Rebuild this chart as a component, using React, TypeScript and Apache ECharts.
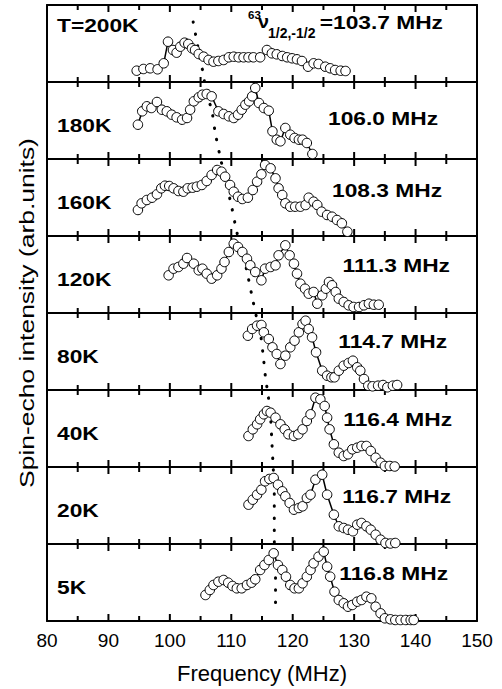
import React, { useEffect, useRef } from 'react';
import * as echarts from 'echarts';

// ---------- data ----------
const temperatureLabels = ['T=200K', '180K', '160K', '120K', '80K', '40K', '20K', '5K'];
const centerFreqLabels = ['=103.7 MHz', '106.0 MHz', '108.3 MHz', '111.3 MHz', '114.7 MHz', '116.4 MHz', '116.7 MHz', '116.8 MHz'];
const xMin = 80;
const xMax = 150;
const xInterval = 10;
const majorTicks = [80, 90, 100, 110, 120, 130, 140, 150];
const minorTicks = [85, 95, 105, 115, 125, 135, 145];

const freq200K = [94.6, 95.7, 96.8, 98.0, 99.0, 99.7, 100.5, 101.1, 101.7, 102.4, 103.0, 103.6, 104.1, 104.7, 105.5, 106.3, 107.1, 107.9, 108.75, 109.6, 110.4, 111.2, 112.0, 112.8, 113.6, 114.7, 115.8, 116.6, 117.4, 118.3, 119.1, 119.9, 120.7, 121.5, 122.5, 123.4, 124.2, 125.3, 126.1, 126.9, 127.8, 128.6];
const int200K = [11.3, 13, 13.7, 12.7, 18.7, 40.3, 32, 29.3, 35.3, 39.3, 38, 33.7, 32, 28, 25.3, 22, 20.3, 21, 22, 24.7, 25.3, 24.7, 24.7, 24.7, 24.7, 24.7, 32, 28.7, 27.7, 26, 24.7, 23.7, 22.7, 21, 15.3, 18.7, 18, 15.3, 13.7, 12, 11.3, 11];

const freq180K = [94.8, 95.5, 96.25, 97.0, 97.9, 98.7, 99.5, 100.3, 101.1, 102.0, 102.8, 103.3, 103.9, 104.7, 105.3, 106.0, 106.8, 107.9, 108.75, 109.6, 110.4, 111.1, 111.7, 112.3, 112.9, 113.4, 113.9, 114.5, 115.3, 116.1, 116.7, 117.4, 118.0, 118.8, 119.6, 120.3, 121.0, 121.6, 122.3, 123.2];
const int180K = [34.3, 47.7, 52.7, 51, 57, 49.3, 47.7, 44.3, 41.7, 39.3, 41, 49.3, 57.7, 61.7, 64.3, 65, 62.7, 47.7, 45, 42.7, 41, 44.3, 49.3, 54.3, 57.7, 62.7, 71, 56, 51, 48.3, 27.7, 19.3, 17.7, 31, 24.3, 21, 19.3, 19.3, 16, 5];

const freq160K = [94.8, 95.4, 96.25, 97.1, 97.9, 98.6, 99.2, 99.9, 100.6, 101.4, 102.2, 102.9, 103.7, 104.4, 105.2, 106.0, 106.8, 107.7, 108.4, 109.0, 109.8, 110.4, 111.1, 111.8, 112.7, 113.5, 114.2, 114.9, 115.5, 116.4, 117.2, 117.7, 118.3, 118.8, 119.6, 120.4, 121.25, 122.1, 122.6, 123.4, 124.0, 124.7, 125.6, 126.4, 127.2, 128.0, 128.9];
const int160K = [26, 32.7, 36, 38.3, 41.7, 47.7, 50.3, 50, 47.7, 45, 44.3, 47.7, 48.3, 49.3, 51, 55, 61, 66, 64.3, 59.3, 51, 44.3, 39.3, 37, 38.3, 46, 54.3, 61.7, 71, 67.7, 57.7, 47.7, 41, 32.7, 29.3, 29.3, 29.3, 31, 38.3, 34.3, 31, 24.3, 21, 19.3, 16, 12.7, 4.3];

const freq120K = [99.8, 100.6, 101.4, 102.2, 102.8, 103.9, 104.7, 105.3, 106.0, 106.8, 107.7, 108.4, 108.9, 109.6, 110.4, 111.1, 111.8, 112.55, 113.1, 113.9, 114.9, 115.5, 116.4, 117.2, 117.7, 118.8, 119.5, 120.2, 120.7, 121.25, 122.0, 122.6, 123.4, 124.0, 124.8, 125.4, 125.9, 126.4, 127.0, 127.5, 128.3, 129.1, 129.9, 130.8, 131.6, 132.4, 133.2, 134.0];
const int120K = [37.7, 44.3, 46, 49.3, 55, 49.3, 42.7, 44.3, 39.3, 34.3, 37.7, 44.3, 51, 61, 69.3, 66, 61, 54.3, 47.7, 41, 32.7, 44.3, 46, 47.7, 57.7, 67.7, 57.7, 49.3, 39.3, 29.3, 24.3, 19.3, 21, 9.3, 17.7, 24.3, 31, 27.7, 21, 14.3, 11, 7.7, 6, 6, 7.7, 9.3, 8.3, 8.3];

const freq80K = [112.7, 113.4, 114.2, 114.9, 115.3, 116.1, 116.7, 117.4, 118.0, 118.8, 119.6, 120.3, 121.0, 121.6, 122.1, 122.6, 123.15, 123.8, 124.8, 125.6, 126.3, 126.8, 127.5, 128.3, 129.1, 129.8, 130.5, 131.0, 131.6, 132.3, 133.0, 133.9, 134.7, 135.4, 136.3, 137.0];
const int80K = [54.3, 61, 64.3, 65, 57.7, 51, 42.7, 36, 26, 34.3, 42.7, 49.3, 57.7, 66, 69.3, 61, 52.7, 37.7, 19.3, 14.3, 12.7, 12.7, 19.3, 24.3, 27, 29.3, 22.7, 19.3, 11, 4.3, 3.7, 4.3, 5, 2.7, 4.3, 5];

const freq40K = [112.8, 113.5, 114.2, 114.7, 115.3, 115.8, 116.4, 117.2, 118.0, 118.7, 119.3, 120.2, 120.9, 121.6, 122.3, 122.9, 123.7, 124.5, 125.2, 125.6, 126.0, 126.7, 127.5, 128.3, 129.0, 129.7, 130.5, 131.2, 132.0, 132.7, 133.5, 134.3, 135.0, 135.8, 136.6];
const int40K = [31, 37.7, 42.7, 47.7, 52.7, 56, 54.3, 49.3, 42.7, 37.7, 32.7, 31, 32.7, 37.7, 46, 52.7, 69.3, 67.7, 61, 49.3, 37.7, 22.7, 14.3, 11, 12.7, 17.7, 19.3, 21, 21, 16, 9.3, 4.3, 1, 1, 0.5];

const freq20K = [112.8, 113.5, 114.2, 114.9, 115.5, 116.2, 116.9, 117.6, 118.3, 118.8, 119.5, 120.2, 121.0, 121.6, 122.3, 122.9, 123.7, 124.8, 125.6, 126.7, 127.5, 128.3, 129.0, 129.8, 130.5, 131.2, 132.0, 132.7, 133.5, 134.3, 135.1, 135.9, 136.7];
const int20K = [39.3, 44.3, 49.3, 54.3, 62.7, 65, 66, 59.3, 52.7, 47.7, 41, 34.3, 36, 37.7, 46, 49.3, 64.3, 69.3, 49.3, 29.3, 17.7, 16, 14.3, 12.7, 19.3, 21, 17.7, 14.3, 9.3, 4.3, 1, 0.5, 1];

const freq5K = [105.8, 106.5, 107.1, 107.9, 108.75, 109.5, 110.2, 110.9, 111.7, 112.55, 113.3, 113.9, 114.7, 115.4, 116.1, 116.9, 117.6, 118.3, 118.9, 119.6, 120.3, 121.0, 121.6, 122.3, 122.9, 123.4, 124.2, 125.05, 125.6, 126.1, 126.8, 127.5, 128.3, 129.0, 129.7, 130.5, 131.2, 132.0, 132.8, 133.5, 134.3, 135.0, 135.9, 136.7, 137.55, 138.4, 139.2, 139.7];
const int5K = [26, 31, 36, 39.3, 41, 38.3, 35, 32.7, 32.7, 36, 38.3, 41.7, 51, 56, 61, 67.7, 56, 51, 44.3, 36, 32.7, 32.7, 37.7, 44.3, 51, 57.7, 64.3, 69.3, 54.3, 44.3, 29.3, 21, 17.7, 14.3, 16, 19.3, 21, 24.3, 22.7, 14.3, 7.7, 2.7, 1.7, 1, 1, 1, 1, 1];

// dotted guide line through the central peak (frequency, height above the bottom of the stack)
const guideFreq = [103.8, 104.2, 104.6, 105.0, 105.5, 105.8, 106.8, 107.4, 108.2, 109.25, 110.1, 110.9, 111.9, 112.5, 113.3, 114.1, 114.7, 115.2, 115.6, 116.0, 116.4, 116.6, 116.8, 117.0, 117.0, 117.2, 117.2];
const guideHeight = [599, 586, 573, 559, 546, 531, 511, 488, 464, 436, 413, 389, 366, 351, 327, 304, 289, 265, 242, 226, 203, 180, 156, 131, 83, 51, 16];

const panelFreqs = [freq200K, freq180K, freq160K, freq120K, freq80K, freq40K, freq20K, freq5K];
const panelInts = [int200K, int180K, int160K, int120K, int80K, int40K, int20K, int5K];

// ---------- layout ----------
const LEFT = 47;
const WIDTH = 430;
const TOP = 5;
const PANEL_H = 77;
const N = 8;
const FONT = '"Liberation Sans", Arial, Helvetica, sans-serif';
const LABEL_STRETCH = 1.23;
const mhzRight = [443, 438, 442, 450, 447, 452, 451, 448];
const mhzCenterOffset = [17, 36, 31, 29, 28, 29, 29, 29];
const MAJOR_LEN = 7;
const MINOR_LEN = 5;

function txt(x: number, y: number, text: string, size: number, weight: string, align: string, extra: any = {}) {
  return {
    type: 'text',
    x,
    y,
    ...extra,
    style: {
      text,
      fontSize: size,
      fontWeight: weight,
      fontFamily: FONT,
      fill: '#000',
      align,
      verticalAlign: 'middle',
      textAlign: align,
      textVerticalAlign: 'middle',
    },
    z: 10,
  };
}

export default function App() {
  const ref = useRef<HTMLDivElement>(null);
  useEffect(() => {
    if (!ref.current) return;
    const chart = echarts.init(ref.current, undefined, { renderer: 'svg' });
    const grids: any[] = [];
    const xAxes: any[] = [];
    const yAxes: any[] = [];
    const series: any[] = [];
    const graphics: any[] = [];

    // tick marks as thin rectangle symbols (panel y units equal pixels)
    const tickMarks: any[] = [];
    majorTicks.forEach((v) => {
      tickMarks.push({ value: [v, MAJOR_LEN / 2], symbolSize: [2, MAJOR_LEN] });
      tickMarks.push({ value: [v, PANEL_H - MAJOR_LEN / 2], symbolSize: [2, MAJOR_LEN] });
    });
    minorTicks.forEach((v) => {
      tickMarks.push({ value: [v, MINOR_LEN / 2], symbolSize: [2, MINOR_LEN] });
      tickMarks.push({ value: [v, PANEL_H - MINOR_LEN / 2], symbolSize: [2, MINOR_LEN] });
    });

    for (let i = 0; i < N; i++) {
      const top = TOP + PANEL_H * i;
      grids.push({ left: LEFT, top, width: WIDTH, height: PANEL_H });
      ['bottom', 'top'].forEach((pos) => {
        xAxes.push({
          type: 'value',
          gridIndex: i,
          position: pos,
          min: xMin,
          max: xMax,
          interval: xInterval,
          axisLine: { show: true, onZero: false, lineStyle: { color: '#000', width: 2 } },
          axisTick: { show: false },
          splitLine: { show: false },
          axisLabel: {
            show: i === N - 1 && pos === 'bottom',
            color: '#000',
            fontSize: 19,
            fontFamily: FONT,
            margin: 10,
          },
        });
      });
      ['left', 'right'].forEach((pos) => {
        yAxes.push({
          type: 'value',
          gridIndex: i,
          position: pos,
          min: 0,
          max: PANEL_H,
          axisLine: { show: true, onZero: false, lineStyle: { color: '#000', width: 2 } },
          axisTick: { show: false },
          axisLabel: { show: false },
          splitLine: { show: false },
        });
      });
      series.push({
        type: 'scatter',
        xAxisIndex: 2 * i,
        yAxisIndex: 2 * i,
        data: tickMarks,
        symbol: 'rect',
        itemStyle: { color: '#000', opacity: 1 },
        silent: true,
        z: 5,
      });
      series.push({
        type: 'line',
        xAxisIndex: 2 * i,
        yAxisIndex: 2 * i,
        data: panelFreqs[i].map((f, k) => [f, panelInts[i][k]]),
        symbol: 'circle',
        symbolSize: 9.5,
        showSymbol: true,
        clip: false,
        itemStyle: { color: '#fff', borderColor: '#000', borderWidth: 1 },
        lineStyle: { color: '#000', width: 1.5 },
        z: 6,
      });
      const ty = i === 0 ? top + 20 : top + 43;
      graphics.push(txt(57, ty, temperatureLabels[i], 18.5, 'bold', 'left', { scaleX: LABEL_STRETCH }));
      graphics.push(txt(mhzRight[i], top + mhzCenterOffset[i], centerFreqLabels[i], 18.5, 'bold', 'right', { scaleX: LABEL_STRETCH }));
    }

    // overlay grid for the dotted guide line
    grids.push({ left: LEFT, top: TOP, width: WIDTH, height: PANEL_H * N });
    xAxes.push({ type: 'value', gridIndex: N, min: xMin, max: xMax, show: false });
    yAxes.push({ type: 'value', gridIndex: N, min: 0, max: PANEL_H * N, show: false });
    series.push({
      type: 'line',
      xAxisIndex: 2 * N,
      yAxisIndex: 2 * N,
      data: guideFreq.map((f, k) => [f, guideHeight[k]]),
      symbol: 'none',
      smooth: 0.3,
      lineStyle: { color: '#000', width: 3, type: [0.5, 11.5], cap: 'round' },
      z: 4,
    });

    graphics.push(txt(248, 15, '63', 11.5, 'bold', 'left'));
    graphics.push(txt(258, 22, 'ν', 18, 'bold', 'left', { scaleX: 1.1 }));
    graphics.push(txt(268, 33, '1/2,-1/2', 14, 'bold', 'left'));

    graphics.push(txt(262, 673, 'Frequency (MHz)', 22, 'normal', 'center'));
    graphics.push(txt(27, 313, 'Spin-echo intensity (arb.units)', 21, 'normal', 'center', { rotation: Math.PI / 2, scaleX: 1.26 }));

    chart.setOption({
      animation: false,
      backgroundColor: '#fff',
      grid: grids,
      xAxis: xAxes,
      yAxis: yAxes,
      series,
      graphic: graphics,
    });
    return () => chart.dispose();
  }, []);
  return <div ref={ref} style={{ position: 'fixed', left: 0, top: 0, width: 502, height: 689 }} />;
}
